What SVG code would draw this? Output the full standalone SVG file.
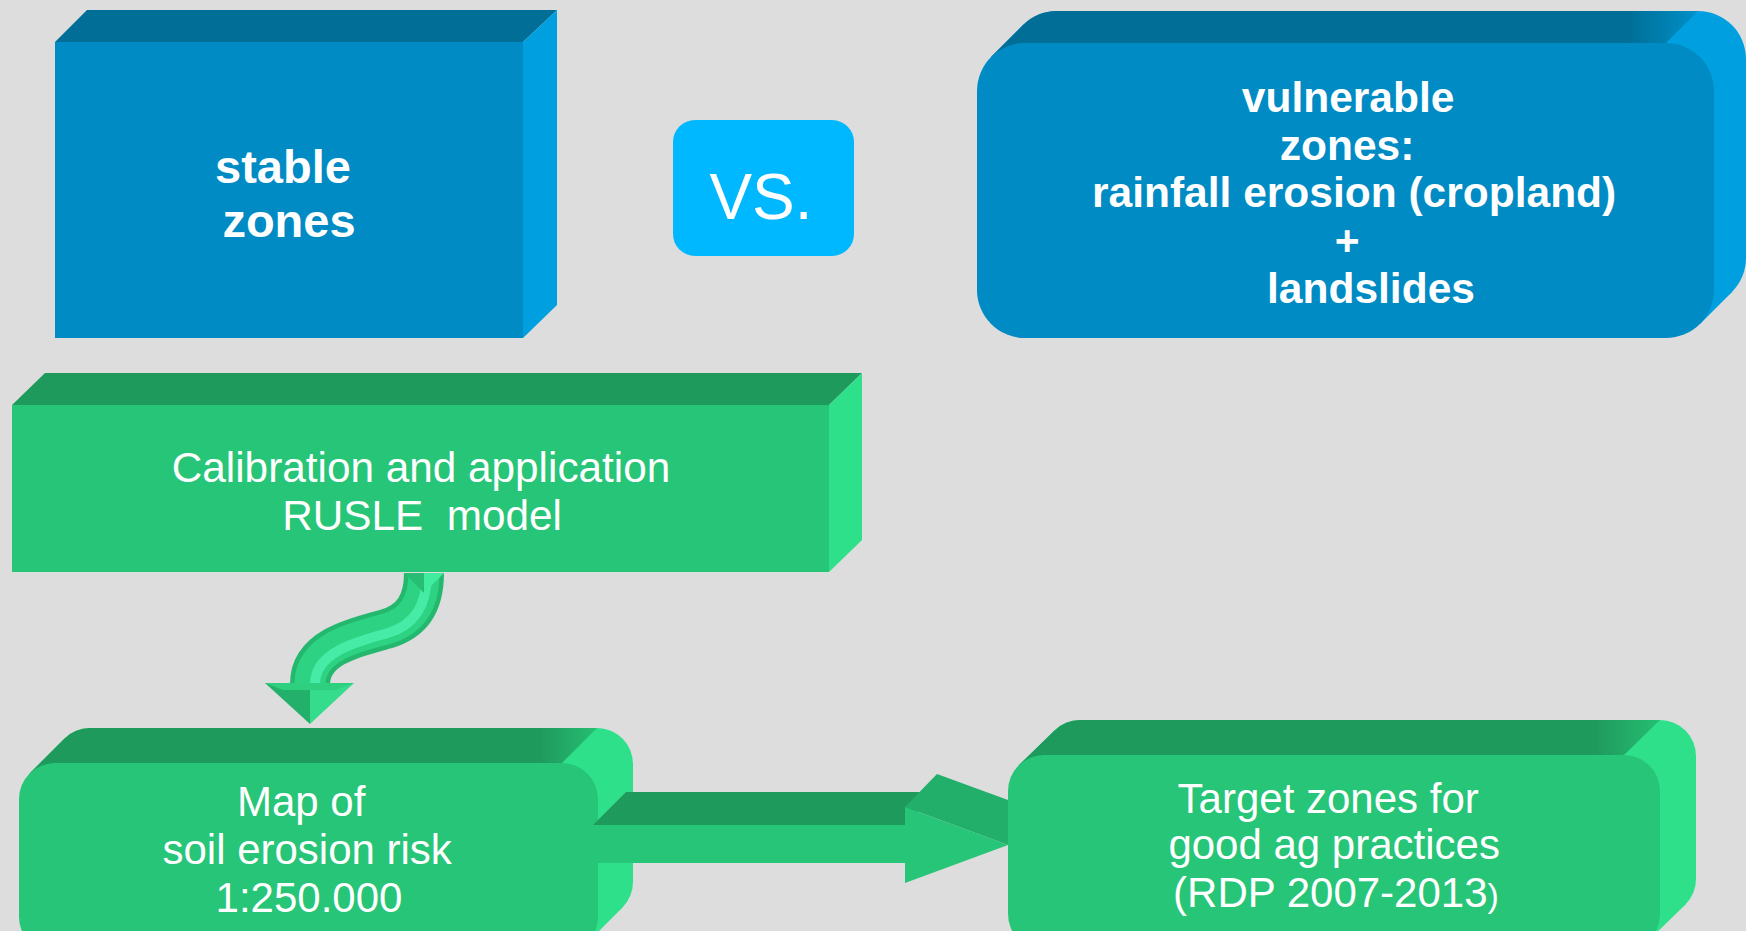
<svg xmlns="http://www.w3.org/2000/svg" width="1746" height="931" viewBox="0 0 1746 931">
  <defs>
    <style>
      .bg { fill: #DDDDDD; }
      .b-top { fill: #006E96; }
      .b-front { fill: #008BC4; }
      .b-side { fill: #00A0E0; }
      .g-top { fill: #1F9A5D; }
      .g-front { fill: #27C577; }
      .g-side { fill: #2EE08A; }
      .lbl { font-family: "Liberation Sans", Arial, sans-serif; fill: #FFFFFF; text-anchor: middle; }
      .bold { font-weight: bold; }
      .tube { fill: none; stroke-linecap: butt; }
    </style>
    <linearGradient id="blueCorner" x1="0" y1="0" x2="1" y2="0">
      <stop offset="0" stop-color="#006E96"/>
      <stop offset="0.9" stop-color="#006E96"/>
      <stop offset="1" stop-color="#0090C8"/>
    </linearGradient>
    <linearGradient id="greenCorner" x1="0" y1="0" x2="1" y2="0">
      <stop offset="0" stop-color="#1F9A5D"/>
      <stop offset="0.9" stop-color="#1F9A5D"/>
      <stop offset="1" stop-color="#26BE72"/>
    </linearGradient>
  </defs>

  <rect class="bg" x="0" y="0" width="1746" height="931"/>

  <!-- stable zones: square block -->
  <g id="stable-zones">
    <polygon class="b-top" points="55,42 87,10 557,10 523,42"/>
    <polygon class="b-side" points="523,42 557,10 557,305 523,338"/>
    <rect class="b-front" x="55" y="42" width="468" height="296"/>
    <text class="lbl bold" font-size="47"><tspan x="283" y="183">stable</tspan><tspan x="289" y="237">zones</tspan></text>
  </g>

  <!-- vs badge -->
  <g id="vs">
    <rect x="673" y="120" width="181" height="136" rx="22" fill="#00B8FF"/>
    <text class="lbl" x="761" y="219" font-size="64">VS.</text>
  </g>

  <!-- vulnerable zones: rounded block -->
  <g id="vulnerable-zones">
    <rect class="b-side" x="1009" y="11" width="737" height="295" rx="48"/>
    <polygon class="b-side" points="991,57 1023,25 1732,292 1700,324"/>
    <path fill="url(#blueCorner)" d="M991,57 L1023,25 A48,48 0 0 1 1057,11 L1698,11 L1666,43 L1025,43 Z"/>
    <rect class="b-front" x="977" y="43" width="737" height="295" rx="48"/>
    <text class="lbl bold" font-size="42.5">
      <tspan x="1354" y="112">vulnerable</tspan>
      <tspan x="1353" y="160">zones:</tspan>
      <tspan x="1360" y="207">rainfall erosion (cropland)</tspan>
      <tspan x="1353" y="255">+</tspan>
      <tspan x="1371" y="303">landslides</tspan>
    </text>
  </g>

  <!-- model step -->
  <g id="rusle-model">
    <polygon class="g-top" points="12,405 45,373 862,373 829,405"/>
    <polygon class="g-side" points="829,405 862,373 862,540 829,572"/>
    <rect class="g-front" x="12" y="405" width="817" height="167"/>
    <text class="lbl" font-size="42.3" xml:space="preserve"><tspan x="421" y="482">Calibration and application</tspan><tspan x="422" y="530">RUSLE  model</tspan></text>
  </g>

  <!-- erosion risk map -->
  <g id="risk-map">
    <rect class="g-side" x="54" y="728" width="579" height="190" rx="36"/>
    <polygon class="g-side" points="29.5,773.5 64.5,738.5 622.5,907.5 587.5,942.5"/>
    <path fill="url(#greenCorner)" d="M29.5,773.5 L64.5,738.5 A36,36 0 0 1 90,728 L597,728 L562,763 L55,763 Z"/>
    <rect class="g-front" x="19" y="763" width="579" height="190" rx="36"/>
    <text class="lbl" font-size="42">
      <tspan x="307" y="816">Map of</tspan>
      <tspan x="313" y="864">soil erosion risk</tspan>
      <tspan x="309" y="912">1:250.000</tspan>
    </text>
  </g>

  <!-- target zones -->
  <g id="target-zones">
    <rect class="g-side" x="1044" y="720" width="652" height="195" rx="36"/>
    <polygon class="g-side" points="1018.5,765.5 1054.5,730.5 1685.5,904.5 1649.5,939.5"/>
    <path fill="url(#greenCorner)" d="M1018.5,765.5 L1054.5,730.5 A36,36 0 0 1 1080,720 L1660,720 L1624,755 L1044,755 Z"/>
    <rect class="g-front" x="1008" y="755" width="652" height="195" rx="36"/>
    <text class="lbl" font-size="42">
      <tspan x="1334" y="813">Target zones for</tspan>
      <tspan x="1340" y="859">good ag practices</tspan>
      <tspan x="1336" y="907">(RDP 2007-2013<tspan font-size="34">)</tspan></tspan>
    </text>
  </g>

  <!-- connectors -->
  <g id="connectors">
    <!-- curved arrow: model -> map -->
    <g id="curved-arrow">
      <path class="tube" d="M424,573 C424,602 413,621 386,629 C356,637 310,647 310,684" stroke="#24B86E" stroke-width="40"/>
      <path class="tube" d="M424,573 C424,602 413,621 386,629 C356,637 310,647 310,684" stroke="#2DD383" stroke-width="31"/>
      <path class="tube" d="M427,573 C427,605 415,625 388,633 C360,641 315,651 315,684" stroke="#4CF2AE" stroke-width="10" opacity="0.8"/>
      <polygon points="404,573 424,573 424,593" fill="#27BE74"/>
      <polygon points="424,573 444,573 424,593" fill="#40EC9E"/>
      <polygon points="265,683 310,683 310,724" fill="#22B06A"/>
      <polygon points="310,683 354,683 310,724" fill="#34DC8B"/>
      <polygon points="265,683 354,683 336,690 283,690" fill="#2FCF80"/>
    </g>
    <!-- block arrow: map -> target -->
    <g id="block-arrow">
      <polygon class="g-top" points="593,825 626,792 937,792 905,825"/>
      <rect class="g-front" x="593" y="825" width="312" height="38"/>
      <polygon fill="#22AF69" points="905,807 937,774 1008,800 1008,845"/>
      <polygon class="g-front" points="905,807 905,883 1008,845"/>
    </g>
  </g>
</svg>
